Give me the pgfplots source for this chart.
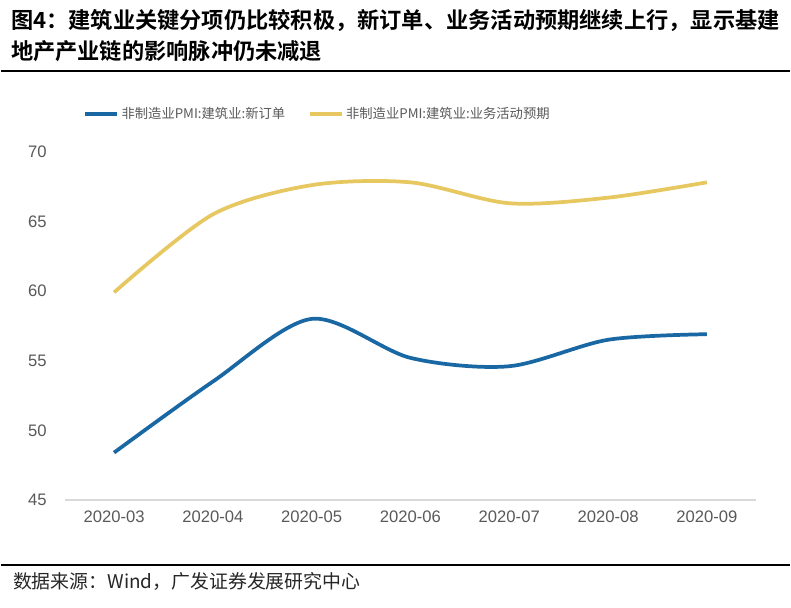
\documentclass[border=0pt]{standalone}
\usepackage{pgfplots}
\pgfplotsset{compat=1.18}
\usepackage{fontspec}
\setmainfont{Liberation Sans}
\newfontfamily\cjk{Noto Sans CJK SC}
\newfontfamily\cjkb{Noto Sans CJK SC Bold}
\definecolor{cblue}{RGB}{26,104,163}
\definecolor{cyellow}{RGB}{230,199,96}
\definecolor{tickgray}{RGB}{89,89,89}
\definecolor{axgray}{RGB}{217,217,217}

\begin{document}
\begin{tikzpicture}
% page frame, 791 x 609 px at 0.75pt per px
\path (0pt,0pt) rectangle (593.25pt,-456.75pt);
\node[anchor=west,inner sep=0pt] at (7.5pt,-15.75pt) {\fontsize{16.7}{18}\selectfont\cjkb 图4：建筑业关键分项仍比较积极，新订单、业务活动预期继续上行，显示基建};
\node[anchor=west,inner sep=0pt] at (7.5pt,-38.25pt) {\fontsize{16.7}{18}\selectfont\cjkb 地产产业链的影响脉冲仍未减退};
\draw[line width=1.2pt] (0pt,-53.25pt) -- (593.25pt,-53.25pt);
\draw[line width=1pt] (0pt,-424.5pt) -- (593.25pt,-424.5pt);
\node[anchor=west,inner sep=0pt] at (9pt,-437.25pt) {\fontsize{14.2}{16}\selectfont\cjk\color{black!85} 数据来源：Wind，广发证券发展研究中心};

\begin{axis}[
  at={(48pt,-375.75pt)}, anchor=south west,
  scale only axis,
  width=519.75pt, height=261.75pt,
  xmin=-0.5, xmax=6.5,
  ymin=45, ymax=70,
  ytick={45,50,...,70},
  xtick={0,...,6},
  xticklabels={2020-03,2020-04,2020-05,2020-06,2020-07,2020-08,2020-09},
  axis x line*=bottom,
  axis y line*=left,
  x axis line style={draw=axgray, line width=1.5pt, -},
  y axis line style={draw=none},
  major tick style={draw=none},
  tick label style={font=\fontsize{12.5}{14}\selectfont, text=tickgray},
  /pgf/number format/assume math mode=true,
  yticklabel style={xshift=-10pt},
  xticklabel style={yshift=-5pt},
  legend columns=2,
  legend style={at={(0.366,1.108)}, anchor=center, draw=none, fill=none,
    font=\fontsize{10}{12}\selectfont\cjk, text=tickgray,
    /tikz/every even column/.append style={column sep=15pt}},
  legend image code/.code={\draw[#1] (0pt,0pt) -- (24pt,0pt);},
  clip=false,
]
\addplot[cblue, line width=2.8pt, smooth, tension=0.5] coordinates {
  (0,48.4) (1,53.5) (2,58.0) (3,55.2) (4,54.6) (5,56.5) (6,56.9)};
\addlegendentry{非制造业PMI:建筑业:新订单}
\addplot[cyellow, line width=2.8pt, smooth, tension=0.5] coordinates {
  (0,59.9) (1,65.5) (2,67.6) (3,67.8) (4,66.3) (5,66.7) (6,67.8)};
\addlegendentry{非制造业PMI:建筑业:业务活动预期}
\end{axis}
\end{tikzpicture}
\end{document}
